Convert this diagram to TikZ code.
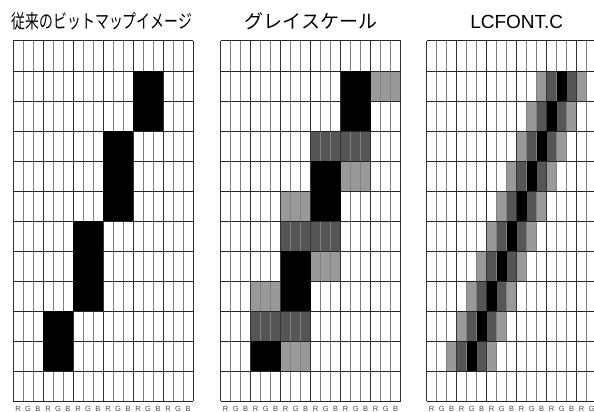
\documentclass[tikz,border=0pt]{standalone}
\usepackage{fontspec}
\setmainfont{Liberation Sans}
\newfontfamily\jpfont{Noto Sans CJK JP}
\definecolor{lgrey}{HTML}{999999}
\definecolor{dgrey}{HTML}{555555}
\begin{document}
\begin{tikzpicture}[x=1pt,y=-1pt,
  pixline/.style={draw=black!80,line width=0.9pt},
  subline/.style={draw=black!50,line width=0.8pt},
  rowline/.style={draw=black!85,line width=1pt},
  lbl/.style={inner sep=0pt,font=\fontsize{7.5}{7.5}\selectfont,text=black!70},
  ttl/.style={inner sep=0pt,anchor=center}]
\useasboundingbox (0,0) rectangle (594,412);
\clip (0,0) rectangle (594,412);
\fill[white] (0,0) rectangle (594,412);
% ---------- grey fills (under the lines) ----------
\foreach \c/\r in {3/3,4/3,2/6,3/6,1/9,2/9}
  \fill[dgrey] (220.7+30*\c,41+30*\r) rectangle ++(30,30);
\foreach \c/\r in {5/1,4/4,2/5,3/7,1/8,2/10}
  \fill[lgrey] (220.7+30*\c,41+30*\r) rectangle ++(30,30);
\foreach \r in {1,...,10}{
  \fill[dgrey] (426.7+10*13-10*\r,41+30*\r) rectangle ++(10,30);
  \fill[dgrey] (426.7+10*15-10*\r,41+30*\r) rectangle ++(10,30);
  \fill[lgrey] (426.7+10*12-10*\r,41+30*\r) rectangle ++(10,30);
  \fill[lgrey] (426.7+10*16-10*\r,41+30*\r) rectangle ++(10,30);
}
% ---------- grid lines ----------
\foreach \gx in {13,220.7,426.7}{
  \foreach \i in {1,2,4,5,7,8,10,11,13,14,16,17}
    \draw[subline] (\gx+10*\i,41) -- (\gx+10*\i,401);
  \foreach \i in {0,...,6}
    \draw[pixline] (\gx+30*\i,41) -- (\gx+30*\i,401);
  \foreach \j in {0,...,12}
    \draw[rowline] (\gx,41+30*\j) -- (\gx+180,41+30*\j);
}
% ---------- sub-pixel labels ----------
\foreach \gx/\n in {13/a,220.7/b}{
  \foreach \i in {0,...,5}{
    \node[lbl] (l\n r\i) at (\gx+30*\i+5,408.5) {R};
    \node[lbl] (l\n g\i) at (\gx+30*\i+15,408.5) {G};
    \node[lbl] (l\n b\i) at (\gx+30*\i+25,408.5) {B};
  }
}
\foreach \i in {0,...,4}{
  \node[lbl] (lcr\i) at (426.7+30*\i+5,408.5) {R};
  \node[lbl] (lcg\i) at (426.7+30*\i+15,408.5) {G};
  \node[lbl] (lcb\i) at (426.7+30*\i+25,408.5) {B};
}
\node[lbl] (lcr5) at (426.7+155,408.5) {R};
\node[lbl] (lcg5) at (426.7+165,408.5) {G};
% ---------- black fills (over the lines) ----------
\foreach \c/\r in {4/1,4/2,3/3,3/4,3/5,2/6,2/7,2/8,1/9,1/10}
  \fill[black] (13+30*\c,41+30*\r) rectangle ++(30,30);
\foreach \c/\r in {4/1,4/2,3/4,3/5,2/7,2/8,1/10}
  \fill[black] (220.7+30*\c,41+30*\r) rectangle ++(30,30);
\foreach \r in {1,...,10}
  \fill[black] (426.7+10*14-10*\r,41+30*\r) rectangle ++(10,30);
% ---------- titles ----------
\node[ttl] (t1) at (102,21) {\jpfont\fontsize{19}{19}\selectfont\scalebox{0.73}[1]{従来のビットマップイメージ}};
\node[ttl] (t2) at (311,21) {\jpfont\fontsize{19}{19}\selectfont グレイスケール};
\node[ttl] (t3) at (516.7,22) {\fontsize{19}{19}\selectfont LCFONT.C};
\end{tikzpicture}
\end{document}
